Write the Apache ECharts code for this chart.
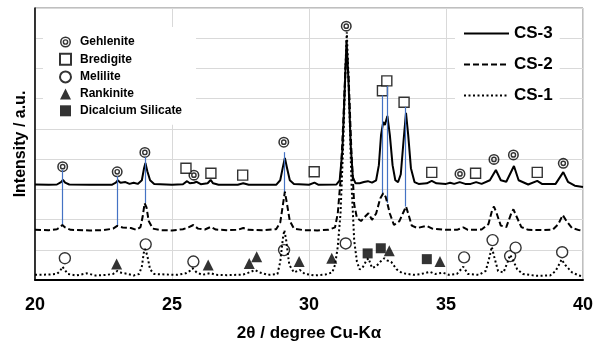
<!DOCTYPE html>
<html>
<head>
<meta charset="utf-8">
<script src="https://cdn.jsdelivr.net/npm/echarts@6/dist/echarts.min.js"></script>
<style>
html,body{margin:0;padding:0;background:#fff}
#main{width:606px;height:343px}
</style>
</head>
<body>
<div id="main"></div>
<script>
// XRD patterns, [2theta, intensity] (intensity in grid units, offset per sample)
var cs3 = [[20.0,3.16],[20.5,3.15],[20.8,3.16],[20.95,3.24],[21.02,3.31],[21.1,3.22],[21.25,3.16],[22.0,3.15],[22.8,3.15],[22.95,3.22],[23.02,3.30],[23.12,3.22],[23.3,3.24],[23.45,3.18],[23.6,3.22],[23.75,3.18],[23.9,3.3],[23.98,3.7],[24.03,3.87],[24.1,3.6],[24.2,3.3],[24.35,3.18],[25.0,3.15],[25.4,3.17],[25.55,3.27],[25.65,3.2],[25.8,3.22],[25.9,3.25],[26.05,3.17],[26.3,3.2],[26.41,3.31],[26.5,3.2],[26.7,3.15],[27.4,3.15],[27.6,3.2],[27.8,3.15],[28.8,3.15],[28.95,3.3],[29.05,3.75],[29.12,4.04],[29.2,3.7],[29.3,3.3],[29.45,3.18],[30.0,3.15],[30.2,3.22],[30.35,3.15],[31.0,3.16],[31.12,3.3],[31.22,4.3],[31.3,6.2],[31.37,7.94],[31.44,6.6],[31.52,4.5],[31.6,3.4],[31.7,3.2],[31.85,3.2],[32.0,3.24],[32.15,3.27],[32.3,3.22],[32.45,3.3],[32.55,3.8],[32.63,4.8],[32.71,5.23],[32.77,5.13],[32.86,5.43],[32.95,4.8],[33.05,3.8],[33.15,3.3],[33.25,3.24],[33.35,3.5],[33.45,4.6],[33.54,5.53],[33.62,4.8],[33.72,3.7],[33.85,3.24],[34.0,3.18],[34.3,3.2],[34.48,3.28],[34.65,3.2],[35.0,3.18],[35.15,3.22],[35.3,3.18],[35.5,3.24],[35.7,3.18],[35.9,3.18],[36.1,3.24],[36.3,3.18],[36.6,3.3],[36.82,3.64],[37.0,3.3],[37.2,3.25],[37.48,3.77],[37.65,3.3],[38.0,3.16],[38.33,3.28],[38.5,3.18],[39.0,3.18],[39.28,3.57],[39.45,3.25],[39.7,3.12],[40.0,3.08]];
var cs2 = [[20.0,1.66],[20.5,1.65],[20.8,1.68],[20.9,1.74],[21.0,1.82],[21.1,1.74],[21.3,1.66],[22.0,1.64],[22.5,1.65],[22.85,1.7],[23.0,1.79],[23.2,1.74],[23.5,1.72],[23.7,1.66],[23.85,1.75],[23.93,2.1],[24.0,2.54],[24.07,2.4],[24.15,1.95],[24.3,1.7],[24.6,1.65],[25.0,1.64],[25.4,1.68],[25.6,1.74],[25.78,1.82],[25.95,1.7],[26.2,1.67],[26.42,1.76],[26.6,1.67],[27.0,1.65],[27.4,1.66],[27.6,1.72],[27.8,1.66],[28.3,1.65],[28.8,1.68],[28.95,1.9],[29.05,2.5],[29.12,2.92],[29.2,2.5],[29.3,1.95],[29.45,1.7],[29.8,1.65],[30.3,1.64],[30.7,1.66],[30.95,1.74],[31.05,2.2],[31.15,3.3],[31.25,5.2],[31.33,7.0],[31.38,7.6],[31.45,6.6],[31.55,4.2],[31.65,2.5],[31.75,2.05],[31.9,1.95],[32.05,2.1],[32.17,2.21],[32.3,1.99],[32.45,2.2],[32.6,2.7],[32.71,2.87],[32.8,2.75],[32.95,2.2],[33.1,1.82],[33.3,1.95],[33.45,2.25],[33.54,2.43],[33.62,2.2],[33.75,1.8],[33.95,1.72],[34.3,1.79],[34.5,1.7],[35.0,1.66],[35.4,1.66],[35.63,1.74],[35.8,1.66],[36.3,1.67],[36.55,1.85],[36.68,2.3],[36.75,2.43],[36.85,2.2],[37.0,1.8],[37.2,1.75],[37.38,2.2],[37.46,2.34],[37.55,2.15],[37.75,1.75],[38.0,1.66],[38.5,1.65],[38.9,1.67],[39.1,1.85],[39.26,2.15],[39.4,1.95],[39.6,1.72],[39.85,1.65],[40.0,1.63]];
var cs1 = [[20.0,0.17],[20.5,0.18],[20.8,0.2],[20.92,0.3],[21.0,0.44],[21.1,0.32],[21.2,0.2],[21.5,0.15],[21.9,0.22],[22.2,0.15],[22.6,0.17],[22.85,0.2],[23.0,0.3],[23.15,0.24],[23.4,0.2],[23.6,0.15],[23.8,0.2],[23.9,0.45],[23.97,0.9],[24.02,1.03],[24.1,0.8],[24.2,0.35],[24.35,0.2],[24.8,0.18],[25.2,0.17],[25.5,0.22],[25.65,0.3],[25.75,0.39],[25.9,0.25],[26.1,0.17],[26.4,0.23],[26.6,0.17],[27.0,0.16],[27.6,0.18],[27.85,0.26],[28.03,0.33],[28.2,0.25],[28.5,0.17],[28.85,0.2],[28.95,0.6],[29.05,1.4],[29.1,1.65],[29.17,1.3],[29.28,0.5],[29.45,0.25],[29.67,0.33],[29.85,0.2],[30.2,0.15],[30.6,0.18],[30.85,0.25],[30.95,0.5],[31.05,1.1],[31.15,2.2],[31.25,4.5],[31.33,7.0],[31.38,8.2],[31.45,6.5],[31.55,3.2],[31.65,1.3],[31.75,0.6],[31.85,0.35],[31.95,0.4],[32.1,0.65],[32.17,0.72],[32.3,0.4],[32.45,0.45],[32.6,0.6],[32.75,0.72],[32.85,0.65],[33.0,0.6],[33.2,0.35],[33.4,0.23],[33.8,0.17],[34.1,0.2],[34.42,0.27],[34.6,0.2],[34.9,0.24],[35.1,0.17],[35.4,0.2],[35.63,0.44],[35.8,0.2],[36.2,0.17],[36.45,0.3],[36.6,0.8],[36.67,1.1],[36.75,0.8],[36.9,0.3],[37.1,0.25],[37.25,0.6],[37.34,0.83],[37.45,0.65],[37.6,0.35],[37.8,0.2],[38.3,0.14],[38.8,0.15],[39.0,0.3],[39.15,0.55],[39.22,0.68],[39.35,0.5],[39.6,0.25],[39.85,0.15],[40.0,0.11]];

// phase markers
var gehlenite = [[21.01,3.75],[23.0,3.58],[24.01,4.22],[25.8,3.47],[29.08,4.56],[31.36,8.4],[35.51,3.51],[36.75,3.99],[37.46,4.14],[39.28,3.86]];
var bredigite = [[25.51,3.7],[26.42,3.53],[27.58,3.47],[30.19,3.58],[32.68,6.26],[32.84,6.59],[33.47,5.88],[34.48,3.56],[36.08,3.53],[38.33,3.56]];
var melilite = [[21.09,0.72],[24.04,1.18],[25.78,0.61],[29.09,0.99],[31.34,1.21],[35.66,0.75],[36.7,1.32],[37.34,0.79],[37.54,1.07],[39.24,0.92]];
var rankinite = [[22.98,0.53],[26.32,0.5],[27.82,0.55],[28.09,0.77],[29.64,0.61],[30.83,0.72],[32.93,0.97],[34.78,0.61]];
var dicalcium = [[32.14,0.88],[32.62,1.05],[34.3,0.69]];

// blue guide lines: [2theta, from, to]
var refLines = [[21.0,3.65,1.82],[23.0,3.44,1.8],[24.02,4.07,2.55],[29.1,4.23,2.81],[32.68,6.11,2.81],[32.86,6.42,2.55],[33.53,5.73,2.43]];

var font = 'Liberation Sans, Arial, sans-serif';
// double circle mark (two rings)
var dblCircle = 'path://M0,-10A10,10,0,1,1,0,10A10,10,0,1,1,0,-10Z M0,-7.2A7.2,7.2,0,1,0,0,7.2A7.2,7.2,0,1,0,0,-7.2Z M0,-5.2A5.2,5.2,0,1,1,0,5.2A5.2,5.2,0,1,1,0,-5.2Z M0,-2.6A2.6,2.6,0,1,0,0,2.6A2.6,2.6,0,1,0,0,-2.6Z';

var myChart = echarts.init(document.getElementById('main'));

function markerSeries(name, data, symbol, size, fill) {
    return {
        name: name,
        type: 'scatter',
        data: data,
        symbol: symbol,
        symbolSize: size,
        z: 3,
        itemStyle: {
            color: fill,
            borderColor: '#000',
            borderWidth: fill === '#fff' ? 1.4 : 0
        }
    };
}

function lineSeries(name, data, type, z) {
    return {
        name: name,
        type: 'line',
        data: data,
        symbol: 'none',
        showSymbol: false,
        z: z,
        lineStyle: { color: '#000', width: 2, type: type },
        itemStyle: { color: '#000' }
    };
}

var s3 = lineSeries('CS-3', cs3, 'solid', 4);
s3.markLine = {
    silent: true,
    animation: false,
    symbol: ['none', 'none'],
    label: { show: false },
    lineStyle: { color: '#4472c4', width: 1.2, type: 'solid' },
    data: refLines.map(function (r) {
        return [{ coord: [r[0], r[1]] }, { coord: [r[0], r[2]] }];
    })
};

var option = {
    animation: false,
    backgroundColor: '#fff',
    grid: {
        left: 35, right: 23, top: 8, bottom: 63,
        outerBoundsMode: 'none',
        show: true, borderColor: '#7f7f7f', borderWidth: 1
    },
    legend: [{
        data: ['Gehlenite', 'Bredigite', 'Melilite', 'Rankinite', 'Dicalcium Silicate'],
        orient: 'vertical',
        left: 43, top: 27,
        padding: [9, 14, 8, 16],
        backgroundColor: '#fff',
        itemWidth: 11, itemHeight: 11, itemGap: 4.7,
        selectedMode: false,
        textStyle: { fontFamily: font, fontSize: 12, fontWeight: 'bold', color: '#000', padding: [0, 0, 0, 4] }
    }, {
        data: ['CS-3', 'CS-2', 'CS-1'],
        orient: 'vertical',
        left: 455, top: 20,
        padding: [5, 7, 10, 8],
        backgroundColor: '#fff',
        itemWidth: 45, itemHeight: 16, itemGap: 14,
        selectedMode: false,
        itemStyle: { opacity: 0 },
        textStyle: { fontFamily: font, fontSize: 17, fontWeight: 'bold', color: '#000' }
    }],
    xAxis: {
        type: 'value',
        min: 20, max: 40, interval: 5,
        name: '2\u03b8 / degree Cu-K\u03b1',
        nameLocation: 'middle',
        nameGap: 45,
        nameTextStyle: { fontFamily: font, fontSize: 17, fontWeight: 'bold', color: '#000' },
        axisLine: { lineStyle: { color: '#000', width: 2 } },
        axisTick: { show: false },
        axisLabel: { fontFamily: font, fontSize: 18, fontWeight: 'bold', color: '#000', margin: 16 },
        splitLine: { show: true, lineStyle: { color: '#d9d9d9', width: 1 } }
    },
    yAxis: {
        type: 'value',
        min: 0, max: 9, interval: 1,
        name: 'Intensity / a.u.',
        nameLocation: 'middle',
        nameGap: 6,
        nameTextStyle: { fontFamily: font, fontSize: 16, fontWeight: 'bold', color: '#000' },
        axisLine: { show: true, lineStyle: { color: '#000', width: 1.5 } },
        axisTick: { show: false },
        axisLabel: { show: false },
        splitLine: { show: true, lineStyle: { color: '#d9d9d9', width: 1 } }
    },
    series: [
        markerSeries('Gehlenite', gehlenite, dblCircle, 11, '#000'),
        markerSeries('Bredigite', bredigite, 'rect', 10, '#fff'),
        markerSeries('Melilite', melilite, 'circle', 11, '#fff'),
        markerSeries('Rankinite', rankinite, 'triangle', 11, '#000'),
        markerSeries('Dicalcium Silicate', dicalcium, 'rect', 10, '#000'),
        s3,
        lineSeries('CS-2', cs2, [6, 3], 5),
        lineSeries('CS-1', cs1, [2, 2.5], 6)
    ]
};

myChart.setOption(option);
</script>
</body>
</html>
